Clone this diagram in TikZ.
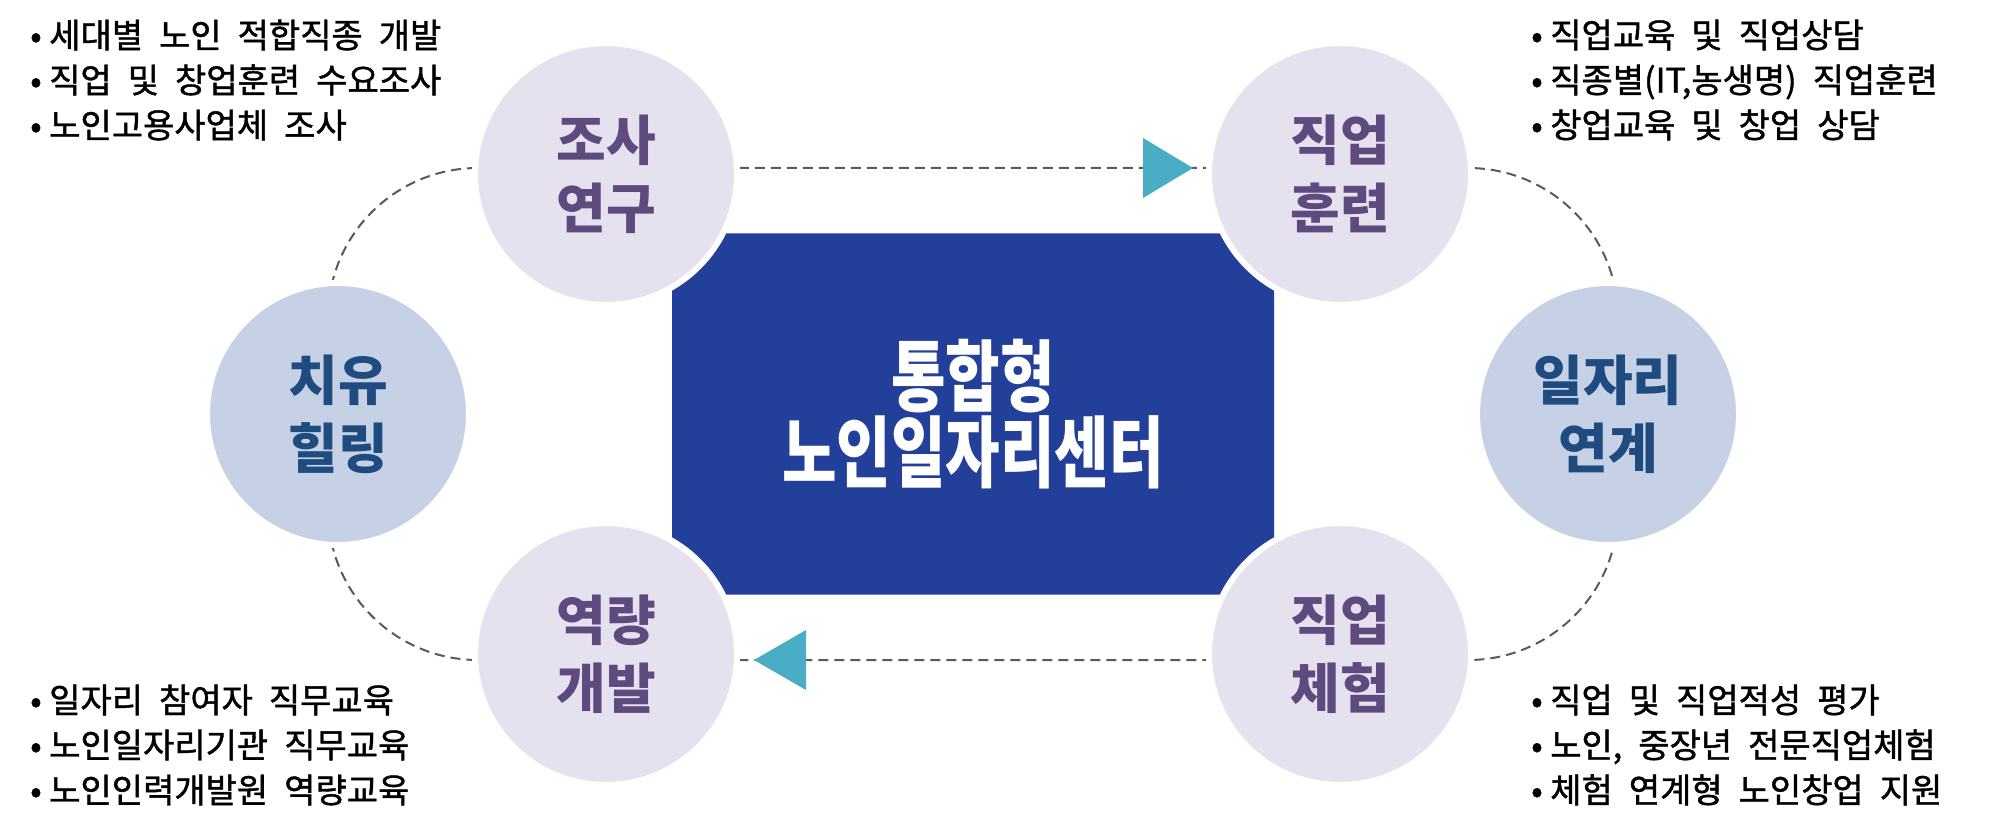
\documentclass[tikz,border=0pt]{standalone}
\usepackage{fontspec}
\setmainfont{Noto Sans CJK KR}
\newfontfamily\krcond[FakeStretch=0.76]{Noto Sans CJK KR}
\newfontfamily\krmed[FakeBold=1.2]{Noto Sans CJK KR}
\newcommand\bulletfont{\krmed\fontsize{34}{45}\selectfont\spaceskip=16pt\relax}
\newcommand\bul{•\kern7.5pt}
\usetikzlibrary{shapes.geometric}
\definecolor{lav}{HTML}{E6E1EE}
\definecolor{lblue}{HTML}{C6D1E6}
\definecolor{purp}{HTML}{5E4A7E}
\definecolor{dblue}{HTML}{1F4C80}
\definecolor{navy}{HTML}{22409A}
\definecolor{teal}{HTML}{49ADC6}
\definecolor{dash}{HTML}{5A5A5A}
\tikzset{
  stage/.style={circle, minimum size=262pt, inner sep=0pt, draw=white, line width=6pt,
    align=center, font=\fontsize{54}{68}\selectfont\bfseries},
  stagea/.style={stage, fill=lav, text=purp},
  stageb/.style={stage, fill=lblue, text=dblue},
  hub/.style={rectangle, rounded corners=10pt, fill=navy, minimum width=602pt, minimum height=361pt,
    text=white, align=center, font=\krcond\fontsize{78}{76}\selectfont\bfseries},
  cycle/.style={draw=dash, line width=2pt, dash pattern=on 10pt off 6pt},
  tip/.style={fill=teal},
  bullets/.style={align=left, inner sep=0pt, font=\bulletfont}
}
\begin{document}
\begin{tikzpicture}[x=1pt, y=-1pt]
\useasboundingbox[fill=white] (0,0) rectangle (1991,818);
% cycle path
\draw[cycle, rounded corners=150pt] (328,168) rectangle (1618,660);
\coordinate (ttip) at (1193,168);
\coordinate (btip) at (754,660);
\fill[tip] (ttip) -- ++(-50,-30) -- ++(0,60) -- cycle;
\fill[tip] (btip) -- ++(52,-30) -- ++(0,60) -- cycle;
% hub
\node[hub] (hub) at (973,414) {통합형\\노인일자리센터};
% stages
\node[stagea] (res) at (606,174) {조사\\연구};
\node[stagea] (trn) at (1340,174) {직업\\훈련};
\node[stageb] (link) at (1608,414) {일자리\\연계};
\node[stagea] (exp) at (1340,654) {직업\\체험};
\node[stagea] (dev) at (606,654) {역량\\개발};
\node[stageb] (heal) at (338,414) {치유\\힐링};
% bullet texts
\node[bullets, anchor=west] (tl) at (30,80) {\bul 세대별 노인 적합직종 개발\\\bul 직업 및 창업훈련 수요조사\\\bul 노인고용사업체 조사};
\node[bullets, anchor=west] (tr) at (1531,80) {\bul 직업교육 및 직업상담\\\bul 직종별(IT,농생명) 직업훈련\\\bul 창업교육 및 창업 상담};
\node[bullets, anchor=west] (bl) at (30,745) {\bul 일자리 참여자 직무교육\\\bul 노인일자리기관 직무교육\\\bul 노인인력개발원 역량교육};
\node[bullets, anchor=west] (br) at (1531,745) {\bul 직업 및 직업적성 평가\\\bul 노인, 중장년 전문직업체험\\\bul 체험 연계형 노인창업 지원};
\end{tikzpicture}
\end{document}
